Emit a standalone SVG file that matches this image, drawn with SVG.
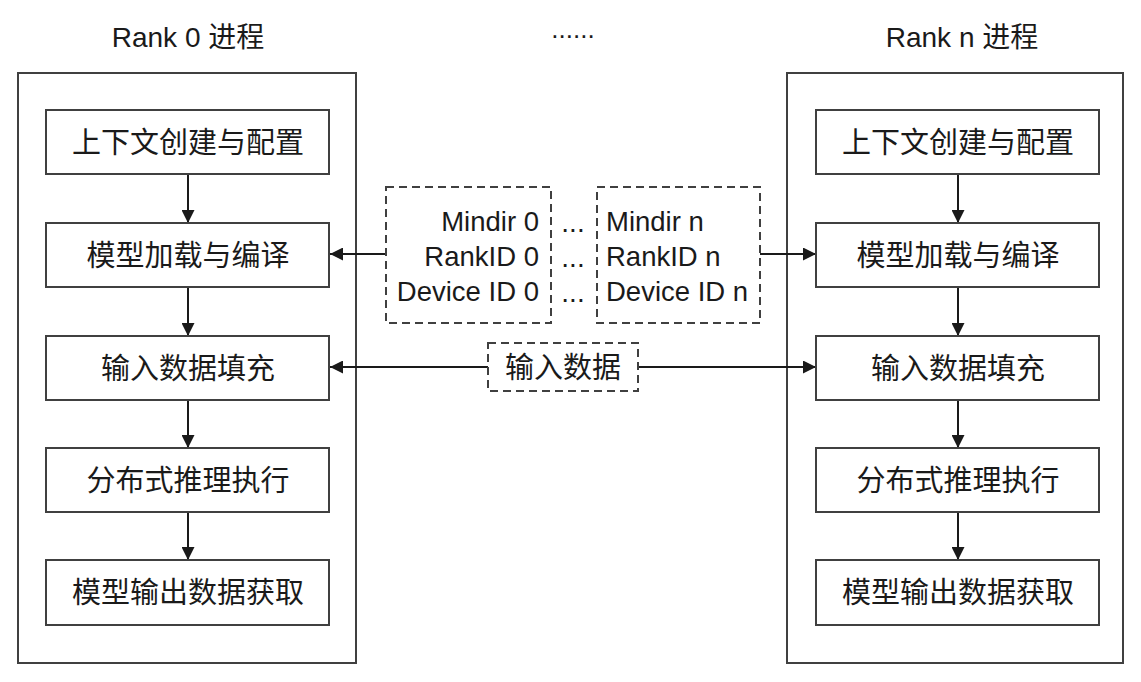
<svg xmlns="http://www.w3.org/2000/svg" width="1141" height="682" viewBox="0 0 1141 682">
<defs>
<style>
text{font-family:"Liberation Sans","Noto Sans CJK SC",sans-serif;fill:#1a1a1a;}
.t{font-size:29px;text-anchor:middle;dominant-baseline:central;}
.title{font-size:28px;text-anchor:middle;}
.box{fill:#fff;stroke:#404040;stroke-width:2;}
.outer{fill:none;stroke:#404040;stroke-width:2;}
.dash{fill:#fff;stroke:#404040;stroke-width:2;stroke-dasharray:8 5;}
.line{stroke:#1a1a1a;stroke-width:2;fill:none;}
.m{font-size:27.5px;}
.d{font-size:28px;text-anchor:middle;}
</style>
<marker id="ah" viewBox="0 0 10 10" refX="10" refY="5" markerWidth="14" markerHeight="13" markerUnits="userSpaceOnUse" orient="auto">
<path d="M0,0 L10,5 L0,10 Z" fill="#1a1a1a"/>
</marker>
</defs>
<rect width="1141" height="682" fill="#fff"/>

<g id="rank0">
<text class="title" x="188" y="47">Rank 0 进程</text>
<rect class="outer" x="18" y="73" width="338" height="590"/>
</g>
<g id="rankn">
<text class="title" x="962" y="47">Rank n 进程</text>
<rect class="outer" x="787" y="73" width="336" height="590"/>
</g>
<g id="top-dots"><text x="573" y="38" style="font-size:26px;text-anchor:middle;">......</text></g>

<g id="connectors">
<line class="line" x1="188" y1="174" x2="188" y2="223" marker-end="url(#ah)"/>
<line class="line" x1="188" y1="287" x2="188" y2="336" marker-end="url(#ah)"/>
<line class="line" x1="188" y1="400" x2="188" y2="448" marker-end="url(#ah)"/>
<line class="line" x1="188" y1="512" x2="188" y2="560" marker-end="url(#ah)"/>
<line class="line" x1="958" y1="174" x2="958" y2="223" marker-end="url(#ah)"/>
<line class="line" x1="958" y1="287" x2="958" y2="336" marker-end="url(#ah)"/>
<line class="line" x1="958" y1="400" x2="958" y2="448" marker-end="url(#ah)"/>
<line class="line" x1="958" y1="512" x2="958" y2="560" marker-end="url(#ah)"/>
<line class="line" x1="386" y1="254" x2="330" y2="254" marker-end="url(#ah)"/>
<line class="line" x1="760" y1="254" x2="816" y2="254" marker-end="url(#ah)"/>
<line class="line" x1="488" y1="367" x2="330" y2="367" marker-end="url(#ah)"/>
<line class="line" x1="638" y1="367" x2="816" y2="367" marker-end="url(#ah)"/>
</g>

<g id="l1"><rect class="box" x="46" y="110" width="283" height="64"/><text class="t" x="188" y="143">上下文创建与配置</text></g>
<g id="l2"><rect class="box" x="46" y="223" width="283" height="64"/><text class="t" x="188" y="256">模型加载与编译</text></g>
<g id="l3"><rect class="box" x="46" y="336" width="283" height="64"/><text class="t" x="188" y="369">输入数据填充</text></g>
<g id="l4"><rect class="box" x="46" y="448" width="283" height="64"/><text class="t" x="188" y="481">分布式推理执行</text></g>
<g id="l5"><rect class="box" x="46" y="560" width="283" height="65"/><text class="t" x="188" y="593">模型输出数据获取</text></g>

<g id="r1"><rect class="box" x="816" y="110" width="283" height="64"/><text class="t" x="958" y="143">上下文创建与配置</text></g>
<g id="r2"><rect class="box" x="816" y="223" width="283" height="64"/><text class="t" x="958" y="256">模型加载与编译</text></g>
<g id="r3"><rect class="box" x="816" y="336" width="283" height="64"/><text class="t" x="958" y="369">输入数据填充</text></g>
<g id="r4"><rect class="box" x="816" y="448" width="283" height="64"/><text class="t" x="958" y="481">分布式推理执行</text></g>
<g id="r5"><rect class="box" x="816" y="560" width="283" height="65"/><text class="t" x="958" y="593">模型输出数据获取</text></g>

<g id="cfg0">
<rect class="dash" x="386" y="187" width="165" height="136"/>
<text class="m" x="539" y="231" text-anchor="end">Mindir 0</text>
<text class="m" x="539" y="266" text-anchor="end">RankID 0</text>
<text class="m" x="539" y="301" text-anchor="end">Device ID 0</text>
</g>
<g id="mid-dots">
<text class="d" x="573" y="232">...</text>
<text class="d" x="573" y="267">...</text>
<text class="d" x="573" y="302">...</text>
</g>
<g id="cfgn">
<rect class="dash" x="597" y="187" width="163" height="136"/>
<text class="m" x="606" y="231">Mindir n</text>
<text class="m" x="606" y="266">RankID n</text>
<text class="m" x="606" y="301">Device ID n</text>
</g>
<g id="input">
<rect class="dash" x="488" y="343" width="150" height="48"/>
<text class="t" x="563" y="368">输入数据</text>
</g>
</svg>
